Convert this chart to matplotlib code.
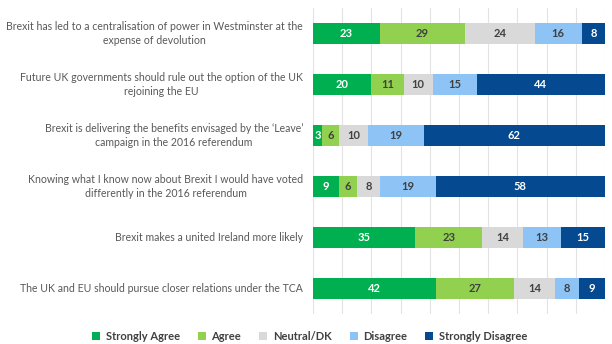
import matplotlib
matplotlib.use("Agg")
import matplotlib.pyplot as plt
import numpy as np

plt.rcParams['font.family'] = ['Lato', 'DejaVu Sans']

categories = [
    "Brexit has led to a centralisation of power in Westminster at the\nexpense of devolution",
    "Future UK governments should rule out the option of the UK\nrejoining the EU",
    "Brexit is delivering the benefits envisaged by the \u2018Leave\u2019\ncampaign in the 2016 referendum",
    "Knowing what I know now about Brexit I would have voted\ndifferently in the 2016 referendum",
    "Brexit makes a united Ireland more likely",
    "The UK and EU should pursue closer relations under the TCA",
]
series_names = ["Strongly Agree", "Agree", "Neutral/DK", "Disagree", "Strongly Disagree"]
strongly_agree = [23, 20, 3, 9, 35, 42]
agree = [29, 11, 6, 6, 23, 27]
neutral = [24, 10, 10, 8, 14, 14]
disagree = [16, 15, 19, 19, 13, 8]
strongly_disagree = [8, 44, 62, 58, 15, 9]

series = [strongly_agree, agree, neutral, disagree, strongly_disagree]
colors = ["#00B050", "#92D050", "#D9D9D9", "#8DC3F5", "#054A91"]
label_colors = ["white", "#404040", "#404040", "#404040", "white"]

fig = plt.figure(figsize=(6.12, 3.44), dpi=100)
ax = fig.add_axes([313/612, 1-314/344, 292/612, 306/344])

y = np.arange(len(categories))
left = np.zeros(len(categories))
handles = []
for name, vals, c, lc in zip(series_names, series, colors, label_colors):
    vals = np.array(vals, dtype=float)
    b = ax.barh(y, vals, left=left, height=0.41, color=c, label=name, zorder=3)
    handles.append(b)
    for yi, (l, v) in enumerate(zip(left, vals)):
        ax.text(l + v/2, yi, f"{int(v)}", ha='center', va='center',
                color=lc, fontsize=8, fontweight='bold', zorder=4)
    left += vals

ax.set_xlim(0, 100)
ax.set_ylim(5.5, -0.5)
ax.set_xticks(np.arange(0, 101, 10))
ax.xaxis.grid(True, color="#E3E3E3", linewidth=0.8, zorder=0)
ax.tick_params(left=False, bottom=False, labelbottom=False)
for s in ax.spines.values():
    s.set_visible(False)
ax.set_yticks(y)
ax.set_yticklabels([])
for yi, cat in enumerate(categories):
    ax.text(-0.034, yi, cat, transform=ax.get_yaxis_transform(), ha='right', va='center',
            multialignment='center', fontsize=7.6, color="#595959", linespacing=1.3)

leg = fig.legend(handles=handles, labels=series_names, loc='center', bbox_to_anchor=(0.506, 1-336/344),
                 ncol=5, frameon=False, fontsize=8, handlelength=0.7, handleheight=0.7,
                 handletextpad=0.5, columnspacing=1.65)
for t in leg.get_texts():
    t.set_color("#404040")
    t.set_fontweight('bold')

fig.savefig("out.png", dpi=100)
